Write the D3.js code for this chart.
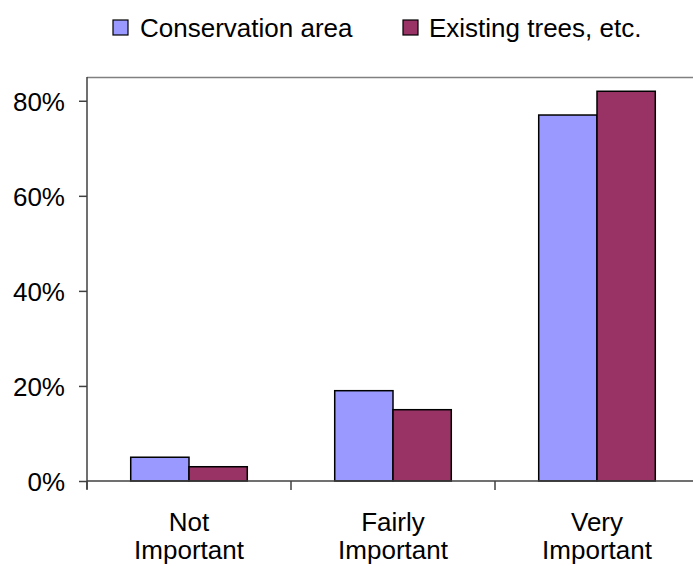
<!DOCTYPE html>
<html>
<head>
<meta charset="utf-8">
<script src="https://cdn.jsdelivr.net/npm/d3@7"></script>
<style>
  html, body { margin: 0; padding: 0; background: #fff; }
  text { font-family: "Liberation Sans", Arial, sans-serif; fill: #000; }
</style>
</head>
<body>
<svg id="chart" width="693" height="566"></svg>
<script>
const categories = [["Not", "Important"], ["Fairly", "Important"], ["Very", "Important"]];
const seriesNames = ["Conservation area", "Existing trees, etc."];
const conservationArea = [0.05, 0.19, 0.77];
const existingTrees = [0.03, 0.15, 0.82];
const yTicks = [0, 0.2, 0.4, 0.6, 0.8];
const colors = ["#9999FF", "#993366"];

const seriesValues = [conservationArea, existingTrees];
const catKeys = categories.map(c => c.join(" "));

const svg = d3.select("#chart");
const plot = { left: 87, right: 699, top: 77, bottom: 481 };

const x = d3.scaleBand().domain(catKeys).range([plot.left, plot.right]).paddingInner(0).paddingOuter(0);
const xs = d3.scaleBand().domain(seriesNames).range([0, x.bandwidth()]).paddingInner(0).paddingOuter(0.75);
const y = d3.scaleLinear().domain([0, 0.85]).range([plot.bottom, plot.top]);

// top border of plot area
svg.append("line")
  .attr("x1", plot.left).attr("x2", 693)
  .attr("y1", plot.top + 0.5).attr("y2", plot.top + 0.5)
  .attr("stroke", "#808080").attr("stroke-width", 1.5);

// bars
const groups = svg.append("g").selectAll("g")
  .data(catKeys).join("g")
  .attr("transform", d => `translate(${x(d)},0)`);

groups.selectAll("rect")
  .data((d, i) => seriesNames.map((s, j) => ({ s, j, v: seriesValues[j][i] })))
  .join("rect")
  .attr("x", d => xs(d.s))
  .attr("width", xs.bandwidth())
  .attr("y", d => y(d.v))
  .attr("height", d => y(0) - y(d.v))
  .attr("fill", d => colors[d.j])
  .attr("stroke", "#000")
  .attr("stroke-width", 1.5);

// y axis
const yAxis = d3.axisLeft(y).tickValues(yTicks).tickFormat(d3.format(".0%")).tickSize(8).tickPadding(14);
const yg = svg.append("g").attr("transform", `translate(${plot.left},0)`).call(yAxis);
yg.select(".domain").remove();
yg.append("line").attr("x1", 0).attr("x2", 0).attr("y1", plot.top).attr("y2", plot.bottom + 8)
  .attr("stroke", "#404040").attr("stroke-width", 1.5);
yg.selectAll(".tick line").attr("stroke", "#404040").attr("stroke-width", 1.5);
yg.selectAll(".tick text").style("font-size", "26px").attr("dy", "0.36em").attr("fill", "#000");

// x axis
const xg = svg.append("g").attr("transform", `translate(0,${plot.bottom})`);
xg.append("line").attr("x1", plot.left).attr("x2", 693).attr("y1", 0).attr("y2", 0)
  .attr("stroke", "#404040").attr("stroke-width", 1.5);
xg.selectAll("line.tk").data(catKeys).join("line").attr("class", "tk")
  .attr("x1", d => x(d)).attr("x2", d => x(d)).attr("y1", 0).attr("y2", 9)
  .attr("stroke", "#404040").attr("stroke-width", 1.5);
xg.selectAll("text.cat").data(categories).join("text").attr("class", "cat")
  .attr("text-anchor", "middle")
  .attr("transform", (d, i) => `translate(${x(catKeys[i]) + x.bandwidth() / 2},0)`)
  .style("font-size", "26px")
  .each(function (d) {
    d3.select(this).selectAll("tspan").data(d).join("tspan")
      .attr("x", 0).attr("y", (t, k) => 50 + k * 28).text(t => t);
  });

// legend
const legendItems = [{ name: seriesNames[0], sx: 113, tx: 140 }, { name: seriesNames[1], sx: 403, tx: 429 }];
const lg = svg.append("g").selectAll("g").data(legendItems).join("g");
lg.append("rect").attr("x", d => d.sx).attr("y", 20).attr("width", 15).attr("height", 15)
  .attr("fill", (d, i) => colors[i]).attr("stroke", "#000").attr("stroke-width", 1.2);
lg.append("text").attr("x", d => d.tx).attr("y", 37).style("font-size", "26px").text(d => d.name);
</script>
</body>
</html>
